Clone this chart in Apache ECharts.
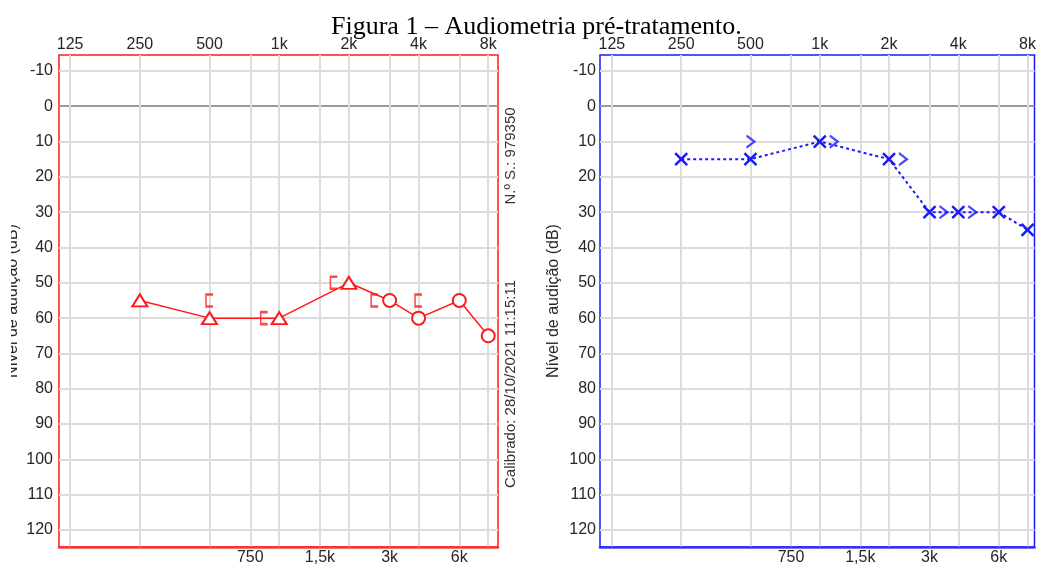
<!DOCTYPE html>
<html>
<head>
<meta charset="utf-8">
<script src="https://cdn.jsdelivr.net/npm/echarts@6/dist/echarts.min.js"></script>
<style>
html, body { margin: 0; padding: 0; background: #fff; }
#chart { width: 1039px; height: 567px; }
</style>
</head>
<body>
<div id="chart"></div>
<script>
// eixos
var topFreqs = [125, 250, 500, 1000, 2000, 4000, 8000];
var topLabels = ['125', '250', '500', '1k', '2k', '4k', '8k'];
var midFreqs = [750, 1500, 3000, 6000];
var midLabels = ['750', '1,5k', '3k', '6k'];
var dbTicks = [-10, 0, 10, 20, 30, 40, 50, 60, 70, 80, 90, 100, 110, 120];

// orelha direita (vermelho)
var rightAirFreqs = [250, 500, 1000, 2000, 3000, 4000, 6000, 8000];
var rightAirDb = [55, 60, 60, 50, 55, 60, 55, 65];
var rightAirMasked = [true, true, true, true, false, false, false, false];
var rightBoneFreqs = [500, 1000, 2000, 3000, 4000];
var rightBoneDb = [55, 60, 50, 55, 55];

// orelha esquerda (azul)
var leftAirFreqs = [250, 500, 1000, 2000, 3000, 4000, 6000, 8000];
var leftAirDb = [15, 15, 10, 15, 30, 30, 30, 35];
var leftBoneFreqs = [500, 1000, 2000, 3000, 4000];
var leftBoneDb = [10, 10, 15, 30, 30];

var RED = '#ff1a1a';
var BLUE = '#1a1aff';
var FONT = '"Liberation Sans", Arial, sans-serif';

function oct(f) { return Math.log2(f / 125); }

function labelFor(freqs, labels) {
    return function (v) {
        for (var k = 0; k < freqs.length; k++) {
            if (Math.abs(oct(freqs[k]) - v) < 1e-6) return labels[k];
        }
        return '';
    };
}

var gridFreqs = topFreqs.concat(midFreqs).sort(function (a, b) { return a - b; });

function xAxes(gi, min, max, color) {
    return [{
        gridIndex: gi, type: 'value', position: 'top', min: min, max: max,
        axisLine: { show: false },
        axisTick: { show: false, customValues: gridFreqs.map(oct) },
        axisLabel: {
            customValues: topFreqs.map(oct), formatter: labelFor(topFreqs, topLabels),
            fontFamily: FONT, fontSize: 16, color: '#262626', margin: 2
        },
        splitLine: { show: true, lineStyle: { color: '#dcdcdc', width: 2 } }
    }, {
        gridIndex: gi, type: 'value', position: 'bottom', min: min, max: max,
        axisLine: { show: true, lineStyle: { color: color, width: 3, opacity: 0.6 } },
        axisTick: { show: false },
        axisLabel: {
            customValues: midFreqs.map(oct), formatter: labelFor(midFreqs, midLabels),
            fontFamily: FONT, fontSize: 16, color: '#262626', margin: 3
        },
        splitLine: { show: false }
    }];
}

function yAxis(gi, margin) {
    return {
        gridIndex: gi, type: 'value', inverse: true, min: -14.5, max: 124.8,
        axisLine: { show: false },
        axisTick: { show: false, customValues: dbTicks },
        axisLabel: { customValues: dbTicks, fontFamily: FONT, fontSize: 16, color: '#262626', margin: margin },
        splitLine: {
            show: true,
            lineStyle: { color: dbTicks.map(function (v) { return v === 0 ? '#9a9a9a' : '#dcdcdc'; }), width: 2 }
        },
        name: 'Nível de audição (dB)', nameLocation: 'middle', nameRotate: 90, nameGap: 38,
        nameTextStyle: { fontFamily: FONT, fontSize: 16, color: '#262626' }
    };
}

// via óssea desloca quando coincide com a via aérea
function bonePoints(bf, bd, af, ad, dx) {
    return bf.map(function (f, i) {
        var j = af.indexOf(f);
        var same = j >= 0 && ad[j] === bd[i];
        return { value: [oct(f), bd[i]], symbolOffset: [same ? dx : 0, 0] };
    });
}

var chart = echarts.init(document.getElementById('chart'));
chart.setOption({
    animation: false,
    title: {
        text: 'Figura 1 – Audiometria pré-tratamento.',
        left: 326, top: 9,
        textStyle: { fontFamily: '"Liberation Serif", "Times New Roman", serif', fontSize: 26, fontWeight: 'normal', color: '#000' }
    },
    grid: [
        { left: 59, top: 55, width: 439, height: 492, show: true, borderColor: RED, borderWidth: 1.5 },
        { left: 600, top: 55, width: 437, height: 492, show: true, borderColor: BLUE, borderWidth: 1.5 }
    ],
    xAxis: xAxes(0, -0.16, 6.14, RED).concat(xAxes(1, -0.172, 6.1, BLUE)),
    yAxis: [yAxis(0, 6), yAxis(1, 4)],
    series: [{
        type: 'line', xAxisIndex: 0, yAxisIndex: 0, z: 3,
        data: rightAirFreqs.map(function (f, i) {
            return {
                value: [oct(f), rightAirDb[i]],
                symbol: rightAirMasked[i] ? 'triangle' : 'circle',
                symbolSize: rightAirMasked[i] ? [15, 12] : 13
            };
        }),
        lineStyle: { color: RED, width: 1.5 },
        itemStyle: { color: '#fff', borderColor: RED, borderWidth: 2 }
    }, {
        type: 'scatter', xAxisIndex: 0, yAxisIndex: 0, z: 4,
        symbol: 'path://M8,0L0,0L0,14L8,14', symbolSize: [7, 12],
        data: bonePoints(rightBoneFreqs, rightBoneDb, rightAirFreqs, rightAirDb, -15),
        itemStyle: { color: 'transparent', borderColor: RED, borderWidth: 2 }
    }, {
        type: 'line', xAxisIndex: 2, yAxisIndex: 1, z: 3,
        symbol: 'path://M0,0L10,10M10,0L0,10', symbolSize: 12,
        data: leftAirFreqs.map(function (f, i) { return [oct(f), leftAirDb[i]]; }),
        lineStyle: { color: BLUE, width: 2, type: [3, 3] },
        itemStyle: { color: 'transparent', borderColor: BLUE, borderWidth: 2.5 }
    }, {
        type: 'scatter', xAxisIndex: 2, yAxisIndex: 1, z: 4,
        symbol: 'path://M0,0L7,7L0,14', symbolSize: [8, 12],
        data: bonePoints(leftBoneFreqs, leftBoneDb, leftAirFreqs, leftAirDb, 14),
        itemStyle: { color: 'transparent', borderColor: BLUE, borderWidth: 2 }
    }],
    graphic: [
        { type: 'rect', left: 0, top: 150, shape: { width: 11, height: 300 }, style: { fill: '#fff' }, z: 100 },
        {
            type: 'text', x: 511, y: 156, rotation: Math.PI / 2,
            style: { text: 'N.º S.: 979350', font: '15px ' + FONT, fill: '#333', align: 'center', verticalAlign: 'middle' }
        },
        {
            type: 'text', x: 511, y: 384, rotation: Math.PI / 2,
            style: { text: 'Calibrado: 28/10/2021 11:15:11', font: '15px ' + FONT, fill: '#333', align: 'center', verticalAlign: 'middle' }
        }
    ]
});
</script>
</body>
</html>
